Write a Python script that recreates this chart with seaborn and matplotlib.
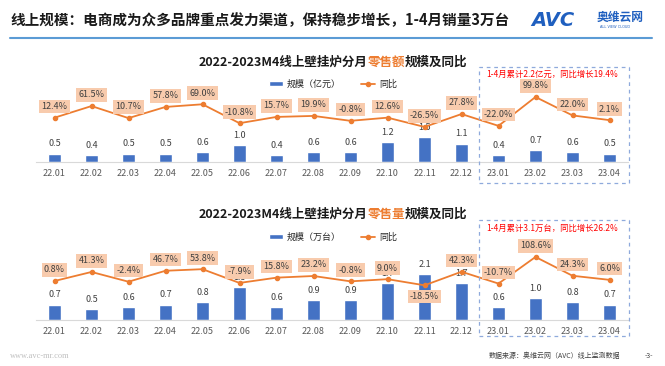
import numpy as np
import pandas as pd
import matplotlib
matplotlib.use('Agg')
import matplotlib.pyplot as plt
import seaborn as sns
from matplotlib.patches import Rectangle, Patch
from matplotlib.lines import Line2D

# ---------------- data ----------------
months = ['22.01', '22.02', '22.03', '22.04', '22.05', '22.06', '22.07', '22.08',
          '22.09', '22.10', '22.11', '22.12', '23.01', '23.02', '23.03', '23.04']
sales_value = [0.5, 0.4, 0.5, 0.5, 0.6, 1.0, 0.4, 0.6, 0.6, 1.2, 1.5, 1.1, 0.4, 0.7, 0.6, 0.5]      # 亿元
sales_value_yoy = [12.4, 61.5, 10.7, 57.8, 69.0, -10.8, 15.7, 19.9, -0.8, 12.6, -26.5, 27.8,
                   -22.0, 99.8, 22.0, 2.1]                                                    # %
sales_volume = [0.7, 0.5, 0.6, 0.7, 0.8, 1.5, 0.6, 0.9, 0.9, 1.7, 2.1, 1.7, 0.6, 1.0, 0.8, 0.7]    # 万台
sales_volume_yoy = [0.8, 41.3, -2.4, 46.7, 53.8, -7.9, 15.8, 23.2, -0.8, 9.0, -18.5, 42.3,
                    -10.7, 108.6, 24.3, 6.0]                                                  # %

main_title = '线上规模：电商成为众多品牌重点发力渠道，保持稳步增长，1-4月销量3万台'
title1_parts = ['2022-2023M4线上壁挂炉分月', '零售额', '规模及同比']
title2_parts = ['2022-2023M4线上壁挂炉分月', '零售量', '规模及同比']
legend1 = ['规模（亿元）', '同比']
legend2 = ['规模（万台）', '同比']
note1 = '1-4月累计2.2亿元，同比增长19.4%'
note2 = '1-4月累计3.1万台，同比增长26.2%'
source = '数据来源：奥维云网（AVC）线上监测数据'

# ---------------- style ----------------
W, H = 665, 366
sns.set_style('white')
plt.rcParams['font.family'] = ['Noto Sans CJK SC', 'DejaVu Sans']
plt.rcParams['axes.unicode_minus'] = False

BAR = '#4472c4'
LINE = '#ed7d31'
LABELBG = '#f8cbad'
TXT = '#404040'

fig = plt.figure(figsize=(W / 100, H / 100), dpi=100)
renderer = fig.canvas.get_renderer()


def fx(px):
    return px / W


def fy(py):
    return 1 - py / H


def mixed_title(parts, cx, cy, size):
    colors = ['#1a1a1a', LINE, '#1a1a1a']
    texts, widths = [], []
    for s, c in zip(parts, colors):
        t = fig.text(0, fy(cy), s, color=c, fontsize=size, fontweight='bold',
                     va='center', ha='left')
        texts.append(t)
        widths.append(t.get_window_extent(renderer).width)
    x = cx - sum(widths) / 2
    for t, w in zip(texts, widths):
        t.set_x(fx(x))
        x += w


def panel(top, base, bars, yoy, bar_scale, anchor, slope, below=()):
    ax = fig.add_axes([fx(36), fy(base), fx(628 - 36), (base - top) / H])
    df = pd.DataFrame({'月份': months, '规模': bars, '同比': yoy})
    sns.barplot(data=df, x='月份', y='规模', color=BAR, saturation=1, width=0.33, ax=ax)
    ax.set_ylim(0, (base - top) / bar_scale)
    ax.set_xlim(-0.5, len(months) - 0.5)
    ax.set_xlabel('')
    ax.set_ylabel('')
    ax.set_yticks([])
    ax.tick_params(axis='x', length=0, pad=5, labelsize=6.5, labelcolor='#595959')
    for s in ['top', 'left', 'right']:
        ax.spines[s].set_visible(False)
    ax.spines['bottom'].set_color('#d9d9d9')
    ax.spines['bottom'].set_linewidth(0.8)
    for i, v in enumerate(bars):
        ax.annotate(f'{v:.1f}', (i, v), xytext=(0, 7), textcoords='offset points',
                    ha='center', va='center', fontsize=6.5, color=TXT)

    ax2 = ax.twinx()
    sns.pointplot(data=df, x='月份', y='同比', color=LINE, markers='o', ax=ax2,
                  markersize=3, linewidth=1.3)
    v0, p0 = anchor
    ax2.set_ylim(v0 - (base - p0) / slope, v0 + (p0 - top) / slope)
    ax2.set_xlim(-0.5, len(months) - 0.5)
    ax2.set_yticks([])
    ax2.set_ylabel('')
    ax2.set_xlabel('')
    ax2.tick_params(axis='x', length=0, labelbottom=False)
    for s in ax2.spines.values():
        s.set_visible(False)
    for i, v in enumerate(yoy):
        off = -8 if i in below else 8
        ax2.annotate(f'{v:.1f}%', (i, v), xytext=(0, off), textcoords='offset points',
                     ha='center', va='center', fontsize=6.5, color=TXT,
                     bbox=dict(boxstyle='square,pad=0.25', fc=LABELBG, ec='none'))
    return ax, ax2


# ---------------- header ----------------
fig.text(fx(10), fy(20), main_title, fontsize=10.5, fontweight='bold', color='#1a1a1a',
         va='center', ha='left')
fig.add_artist(Line2D([fx(10), fx(652)], [fy(37.5), fy(37.5)], color='#5b9bd5', lw=1.5,
                      transform=fig.transFigure))
fig.text(fx(531), fy(20), 'AVC', fontsize=14, fontweight='bold', style='italic',
         color='#1f5fbf', va='center', ha='left', family='DejaVu Sans')
fig.text(fx(597), fy(17), '奥维云网', fontsize=8.5, fontweight='bold', color='#1f5fbf',
         va='center', ha='left')
fig.text(fx(600), fy(27), 'ALL VIEW CLOUD', fontsize=2.5, color='#1f5fbf',
         va='center', ha='left', family='DejaVu Sans')

# ---------------- chart 1 ----------------
mixed_title(title1_parts, 333, 62, 9)
fig.legend(handles=[Patch(fc=BAR), Line2D([], [], color=LINE, marker='o', ms=3, lw=1.3)],
           labels=legend1, loc='center', bbox_to_anchor=(fx(333), fy(84)), ncol=2,
           frameon=False, fontsize=6.5, handlelength=1.6, handleheight=0.5,
           columnspacing=2.2, handletextpad=0.4)
panel(88, 162, sales_value, sales_value_yoy, 16.7, (12.4, 117.7), 0.237)
fig.add_artist(Rectangle((fx(479), fy(183)), fx(629 - 479), (183 - 67) / H,
                         transform=fig.transFigure, fill=False, ec='#8faadc',
                         ls=(0, (3, 3)), lw=0.9))
fig.text(fx(552), fy(74), note1, fontsize=6, color='#ff0000', va='center', ha='center')

# ---------------- chart 2 ----------------
mixed_title(title2_parts, 333, 214, 9)
fig.legend(handles=[Patch(fc=BAR), Line2D([], [], color=LINE, marker='o', ms=3, lw=1.3)],
           labels=legend2, loc='center', bbox_to_anchor=(fx(333), fy(237)), ncol=2,
           frameon=False, fontsize=6.5, handlelength=1.6, handleheight=0.5,
           columnspacing=2.2, handletextpad=0.4)
panel(243, 320, sales_volume, sales_volume_yoy, 21.9, (0.8, 281), 0.223, below=(10,))
fig.add_artist(Rectangle((fx(479), fy(336)), fx(629 - 479), (336 - 220) / H,
                         transform=fig.transFigure, fill=False, ec='#8faadc',
                         ls=(0, (3, 3)), lw=0.9))
fig.text(fx(552), fy(228), note2, fontsize=6, color='#ff0000', va='center', ha='center')

# ---------------- footer ----------------
fig.text(fx(10), fy(356), 'www.avc-mr.com', fontsize=6, color='#bfbfbf', va='center',
         ha='left', family='Liberation Serif')
fig.text(fx(489), fy(356), source, fontsize=5, color=TXT, va='center', ha='left')
fig.text(fx(645), fy(356), '-3-', fontsize=5, color=TXT, va='center', ha='left')

fig.savefig('out.png', dpi=100)
